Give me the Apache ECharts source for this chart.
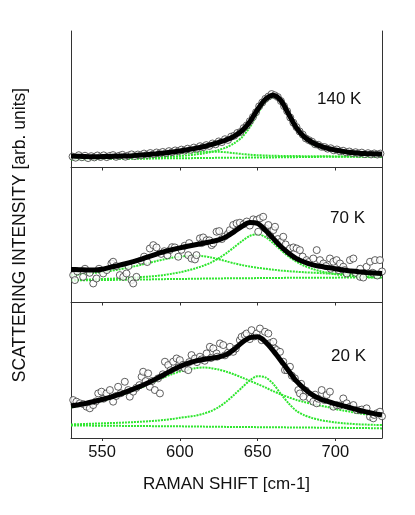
<!DOCTYPE html>
<html>
<head>
<meta charset="utf-8">
<script src="https://cdn.jsdelivr.net/npm/echarts@6/dist/echarts.min.js"></script>
<style>html,body{margin:0;padding:0;background:#fff}#c{width:415px;height:515px}</style>
</head>
<body>
<div id="c"></div>
<script>
// ---- data ----
const tickValues = [550, 600, 650, 700];
const panelLabels = ['140 K', '70 K', '20 K'];
const xTitle = 'RAMAN SHIFT [cm-1]';
const yTitle = 'SCATTERING INTENSITY [arb. units]';

const fitX = [530,535,540,545,550,555,560,565,570,575,580,585,590,595,600,605,610,615,620,625,630,635,640,645,650,655,660,665,670,675,680,685,690,695,700,705,710,715,720,725,730];

// 140 K
const fit140 = [8.4,8.2,8.0,7.9,8.0,8.1,8.3,8.4,8.7,9.1,9.6,10.1,10.7,11.4,12.1,13.0,14.0,15.2,16.7,18.4,20.3,23.0,27.0,33.5,42.5,50.0,53.0,49.0,39.0,29.0,22.5,18.5,15.8,14.0,12.8,11.8,11.0,10.5,10.2,10.0,9.9];
const base140 = [6.0,6.0,6.1,6.1,6.2,6.3,6.3,6.4,6.4,6.5,6.5,6.6,6.7,6.7,6.8,6.8,6.9,6.9,7.0,7.1,7.1,7.2,7.2,7.3,7.3,7.4,7.4,7.5,7.6,7.6,7.7,7.7,7.8,7.8,7.9,7.9,7.9,7.9,7.9,7.9,7.9];
const broad140 = [6.5,6.6,6.7,6.8,6.9,7.0,7.2,7.4,7.6,7.9,8.3,8.8,9.3,9.8,10.3,10.8,11.2,11.5,11.6,11.5,11.1,10.5,9.9,9.4,9.0,8.8,8.6,8.5,8.4,8.4,8.3,8.3,8.2,8.2,8.1,8.1,8.0,8.0,8.0,7.9,7.9];
const peak140 = [6.1,6.2,6.2,6.3,6.4,6.5,6.6,6.7,6.9,7.0,7.2,7.4,7.7,8.0,8.4,8.9,9.5,10.3,11.4,12.8,14.8,17.8,22.2,29.5,39.5,48.0,51.5,47.5,37.5,27.8,21.0,17.0,14.5,12.8,11.6,10.8,10.2,9.7,9.4,9.2,9.0];
const pts140 = [[531,8.0],[533,7.2],[535,9.0],[537,7.5],[539,8.6],[541,6.9],[543,8.3],[545,7.4],[547,8.8],[549,7.7],[551,8.9],[553,7.6],[555,8.5],[557,9.1],[559,7.8],[561,8.6],[563,9.3],[565,7.9],[567,8.8],[569,9.6],[571,8.4],[573,9.5],[575,8.9],[577,10.2],[579,9.3],[581,10.6],[583,9.8],[585,11.0],[587,10.3],[589,11.4],[591,10.6],[593,12.0],[595,11.2],[597,12.5],[599,11.9],[601,13.1],[603,12.4],[605,13.8],[607,13.0],[609,14.6],[611,13.8],[613,15.6],[615,14.9],[617,16.4],[619,15.8],[621,17.6],[623,17.0],[625,19.1],[627,18.6],[629,20.7],[631,20.2],[633,22.6],[635,23.3],[637,25.3],[639,26.0],[641,28.9],[643,30.8],[645,33.9],[647,37.0],[649,40.5],[651,44.8],[653,47.6],[655,50.3],[657,52.0],[659,53.8],[661,52.9],[663,51.6],[665,48.7],[667,45.0],[669,41.3],[671,36.6],[673,32.8],[675,29.6],[677,26.4],[679,24.1],[681,21.3],[683,20.0],[685,18.9],[687,17.0],[689,16.6],[691,15.2],[693,15.0],[695,13.8],[697,14.1],[699,12.6],[701,13.2],[703,11.8],[705,12.3],[707,11.1],[709,11.7],[711,10.6],[713,11.2],[715,10.2],[717,10.9],[719,9.8],[721,10.5],[723,9.6],[725,10.3],[727,9.5],[729,10.2]];

// 70 K
const fit70 = [24.5,24.3,24.1,24.0,24.6,26.0,27.3,28.7,30.3,32.0,34.0,35.9,37.7,39.2,40.5,41.7,42.8,43.9,45.1,46.4,48.8,52.5,56.5,59.2,58.5,53.5,47.5,41.5,36.5,32.5,30.0,28.0,26.8,25.9,25.0,24.0,23.4,22.8,22.3,21.9,21.5];
const base70 = [16.3,16.4,16.5,16.6,16.6,16.7,16.8,16.9,17.0,17.0,17.1,17.2,17.3,17.4,17.4,17.5,17.6,17.7,17.7,17.8,17.9,17.9,18.0,18.0,18.1,18.1,18.2,18.2,18.3,18.3,18.3,18.4,18.4,18.4,18.4,18.5,18.5,18.5,18.5,18.5,18.5];
const broad70 = [20.3,20.8,21.3,21.9,22.6,23.4,24.3,25.4,26.6,27.9,29.3,30.7,32.0,33.2,34.0,34.5,34.6,34.3,33.4,32.0,30.5,29.0,27.7,26.6,25.7,25.0,24.3,23.7,23.2,22.8,22.4,22.1,21.8,21.5,21.3,21.1,20.9,20.7,20.6,20.4,20.3];
const peak70 = [16.6,16.8,17.0,17.2,17.4,17.6,17.8,18.1,18.4,18.8,19.2,19.7,20.4,21.3,22.4,23.7,25.3,27.2,29.6,32.8,36.6,41.0,45.5,49.3,50.5,48.5,44.0,38.8,34.0,30.2,27.2,25.0,23.3,22.0,21.0,20.3,19.7,19.2,18.9,18.6,18.5];
const pts70 = [[531.4,20.3],[532.5,16.6],[534,23.0],[537.8,19.0],[539,25.0],[542,22.0],[544.3,14.1],[546.4,17.8],[548,25.0],[550.7,21.5],[553,24.0],[556,28.9],[557.1,30.2],[559,27.0],[561.4,20.3],[563.6,19.0],[565.7,21.5],[567,27.0],[568.9,16.6],[570,14.1],[572.1,19.0],[575,31.0],[577,34.0],[579,30.0],[580.7,40.0],[582.9,42.5],[585,40.8],[588,36.0],[590,38.0],[592,35.0],[593.6,38.8],[595,41.0],[596.8,40.8],[599,33.9],[601,39.0],[603,42.0],[605.4,35.1],[606,44.0],[607.5,32.6],[609.7,31.9],[610.7,35.1],[612.9,47.5],[614,44.0],[615,48.2],[617.2,46.2],[619,46.0],[620.4,42.5],[621.5,43.8],[623.6,52.4],[625.3,52.9],[627,47.0],[629,49.0],[631,51.0],[632.2,53.6],[634.3,57.4],[636.5,58.6],[638.6,59.1],[641,58.0],[643,60.0],[645,57.0],[647.2,61.6],[649.4,61.1],[650.4,52.4],[651.5,62.3],[653.6,63.5],[655,55.0],[656.9,57.4],[658,50.0],[660.1,53.6],[661.2,56.1],[663,47.0],[665,45.0],[666.5,48.7],[668,43.0],[670.8,40.0],[673,40.8],[675.1,40.0],[677.2,38.8],[679,34.0],[681.5,31.4],[683,30.0],[685.8,32.6],[688,38.8],[690.1,31.4],[692.3,28.9],[694,27.0],[696.5,32.6],[697,25.0],[698.7,30.2],[700.8,31.4],[702,24.0],[703,28.9],[705.1,26.5],[706,24.0],[707.3,21.5],[709.4,31.4],[711.6,32.6],[713,22.0],[715.9,19.0],[716,25.0],[718,18.5],[720.1,26.5],[722.3,30.2],[724,22.0],[725.5,31.4],[727,20.0],[728.7,31.4],[730,23.0]];

// 20 K
const fit20 = [23.6,24.6,25.7,26.9,28.4,30.0,31.9,33.9,36.1,38.4,41.0,43.8,46.9,50.0,52.8,55.0,56.7,57.9,58.8,59.8,61.7,65.5,70.5,74.0,74.7,71.0,64.5,57.0,49.5,42.0,36.5,32.0,29.0,27.0,25.2,23.7,22.2,20.5,19.2,18.0,17.0];
const base20 = [9.3,9.2,9.2,9.1,9.1,9.0,9.0,8.9,8.9,8.8,8.8,8.7,8.7,8.6,8.6,8.5,8.5,8.4,8.3,8.3,8.2,8.2,8.1,8.1,8.0,8.0,7.9,7.9,7.8,7.8,7.7,7.7,7.6,7.6,7.5,7.5,7.4,7.3,7.3,7.2,7.1];
const broad20 = [22.6,23.6,24.7,25.9,27.4,29.1,31.0,32.7,34.9,37.2,39.6,42.2,44.8,47.1,49.0,50.5,51.5,52.0,51.6,50.5,48.9,46.9,44.6,42.2,39.8,37.3,34.6,32.2,30.0,28.1,26.5,25.1,23.9,22.9,21.3,20.3,19.3,18.3,17.4,16.7,16.0];
const peak20 = [10.0,10.2,10.4,10.6,10.8,11.0,11.2,11.4,11.7,12.0,12.4,12.8,13.3,14.0,14.9,15.6,16.5,17.9,19.8,22.8,27.0,32.0,37.3,42.5,45.6,44.8,40.0,32.5,25.5,20.0,16.8,14.8,13.3,12.3,11.5,10.9,10.5,10.1,9.9,9.7,9.6];
const pts20 = [[531.4,28.0],[533.5,26.8],[535.7,25.6],[538,25.0],[540,23.1],[542.1,21.9],[544.3,24.3],[546,27.0],[547.5,32.9],[549.6,34.2],[551,29.0],[552.8,32.9],[555,35.4],[557.1,26.8],[559,31.0],[560.3,37.8],[562,33.0],[564.6,41.5],[566.8,35.4],[567.8,30.5],[570,34.2],[572,37.0],[574,39.0],[575.4,45.2],[576.4,48.9],[578,42.0],[579.6,47.7],[580.7,37.8],[582,42.0],[583.9,35.4],[586,44.0],[587.2,32.9],[589,47.0],[590.4,56.3],[592.5,53.8],[594,50.0],[595.7,56.3],[597.9,58.7],[599,52.0],[600,57.5],[602,54.0],[603.2,51.4],[605.4,50.1],[606,56.0],[607.5,61.2],[609.7,58.7],[611,56.0],[612.9,60.0],[614,58.0],[616,57.0],[617.2,62.4],[619.3,67.3],[620,59.0],[621.5,66.1],[623.6,62.4],[624,60.0],[625.8,69.8],[627.9,68.6],[629,61.0],[631,63.0],[632.2,67.3],[634.3,63.6],[636,66.0],[638.6,72.2],[639.7,74.7],[641.8,75.9],[642.9,77.1],[645,73.0],[646.1,79.6],[648,75.0],[649.4,77.1],[651.5,80.8],[652.6,72.2],[654.7,78.4],[656.9,77.1],[658,70.0],[660.1,71.0],[661,66.0],[662.2,64.9],[664.4,63.6],[666.5,56.3],[667.6,50.1],[669,50.0],[670.8,52.6],[672,46.0],[674,44.0],[676.2,35.4],[677.2,32.9],[678,40.0],[679.4,30.5],[681,35.0],[683.7,29.2],[685.8,26.8],[687,32.0],[688,25.6],[689,29.0],[691.2,35.4],[693,28.0],[694.4,31.7],[696.5,34.2],[698.7,23.1],[700.8,24.3],[703,24.0],[705.1,29.2],[707.3,25.6],[709.4,23.1],[711.6,24.3],[713.7,20.6],[715.9,20.6],[717,21.0],[720.1,21.9],[722.3,15.7],[724.4,14.5],[725,17.0],[726.6,18.2],[728.7,19.4],[730,16.0]];

// ---- chart ----
const panels = [
  {fit: fit140, base: base140, broad: broad140, peak: peak140, pts: pts140},
  {fit: fit70, base: base70, broad: broad70, peak: peak70, pts: pts70},
  {fit: fit20, base: base20, broad: broad20, peak: peak20, pts: pts20}
];
const gridTops = [31, 167.5, 302.5];
const gridHeights = [136.5, 135, 135.5];
const labelCenters = [101, 220, 358];
const labelLefts = [317, 330, 331];
const FONT = '"Liberation Sans", Arial, sans-serif';
const axisColor = '#333';
const green = '#2ee62e';

const grid = [], xAxis = [], yAxis = [], series = [], title = [];
panels.forEach((p, i) => {
  grid.push({left: 71, right: 33, top: gridTops[i], height: gridHeights[i], containLabel: false});
  xAxis.push({
    type: 'value', gridIndex: i, min: 530, max: 730, position: 'top',
    axisLine: {show: true, lineStyle: {color: axisColor, width: 1}},
    axisTick: {show: true, inside: true, length: 3, customValues: tickValues, lineStyle: {color: axisColor}},
    axisLabel: {show: false}, splitLine: {show: false}
  });
  const yBase = {type: 'value', gridIndex: i, min: 0, max: 100,
    axisLine: {show: true, onZero: false, lineStyle: {color: axisColor, width: 1}},
    axisTick: {show: false}, axisLabel: {show: false}, splitLine: {show: false}};
  const yl = Object.assign({}, yBase, {position: 'left'});
  if (i === 1) {
    Object.assign(yl, {name: yTitle, nameLocation: 'middle', nameGap: 33, nameRotate: 90,
      nameTextStyle: {fontSize: 17.5, color: '#111', fontFamily: FONT, padding: [0, 0, 9, 0]}});
  }
  yAxis.push(yl);
  yAxis.push(Object.assign({}, yBase, {position: 'right'}));
  const mk = arr => fitX.map((x, k) => [x, arr[k]]);
  [p.base, p.peak, p.broad].forEach(arr => series.push({
    type: 'line', xAxisIndex: i, yAxisIndex: 2 * i, data: mk(arr), smooth: 0.3,
    showSymbol: false, silent: true, z: 2,
    lineStyle: {color: green, width: 2, type: [2, 1]}
  }));
  series.push({
    type: 'scatter', xAxisIndex: i, yAxisIndex: 2 * i, data: p.pts, symbol: 'circle', symbolSize: 7, z: 3,
    itemStyle: {color: '#fff', borderColor: '#3a3a3a', borderWidth: 1}
  });
  series.push({
    type: 'line', xAxisIndex: i, yAxisIndex: 2 * i, data: mk(p.fit), smooth: 0.3,
    showSymbol: false, silent: true, z: 4,
    lineStyle: {color: '#000', width: 5}
  });
  title.push({text: panelLabels[i], left: labelLefts[i], top: labelCenters[i] - 10, padding: 0,
    textStyle: {fontSize: 17, fontWeight: 'normal', color: '#111', fontFamily: FONT}});
});
// bottom labels axis
xAxis.push({
  type: 'value', gridIndex: 2, min: 530, max: 730, position: 'bottom',
  axisLine: {show: false}, axisTick: {show: false}, splitLine: {show: false},
  axisLabel: {show: true, customValues: tickValues, fontSize: 16.5, color: '#111', margin: 6, fontFamily: FONT},
  name: xTitle, nameLocation: 'middle', nameGap: 38,
  nameTextStyle: {fontSize: 17, color: '#111', fontFamily: FONT}
});

const chart = echarts.init(document.getElementById('c'), null, {renderer: 'canvas'});
chart.setOption({animation: false, backgroundColor: '#fff', title, grid, xAxis, yAxis, series});
</script>
</body>
</html>
